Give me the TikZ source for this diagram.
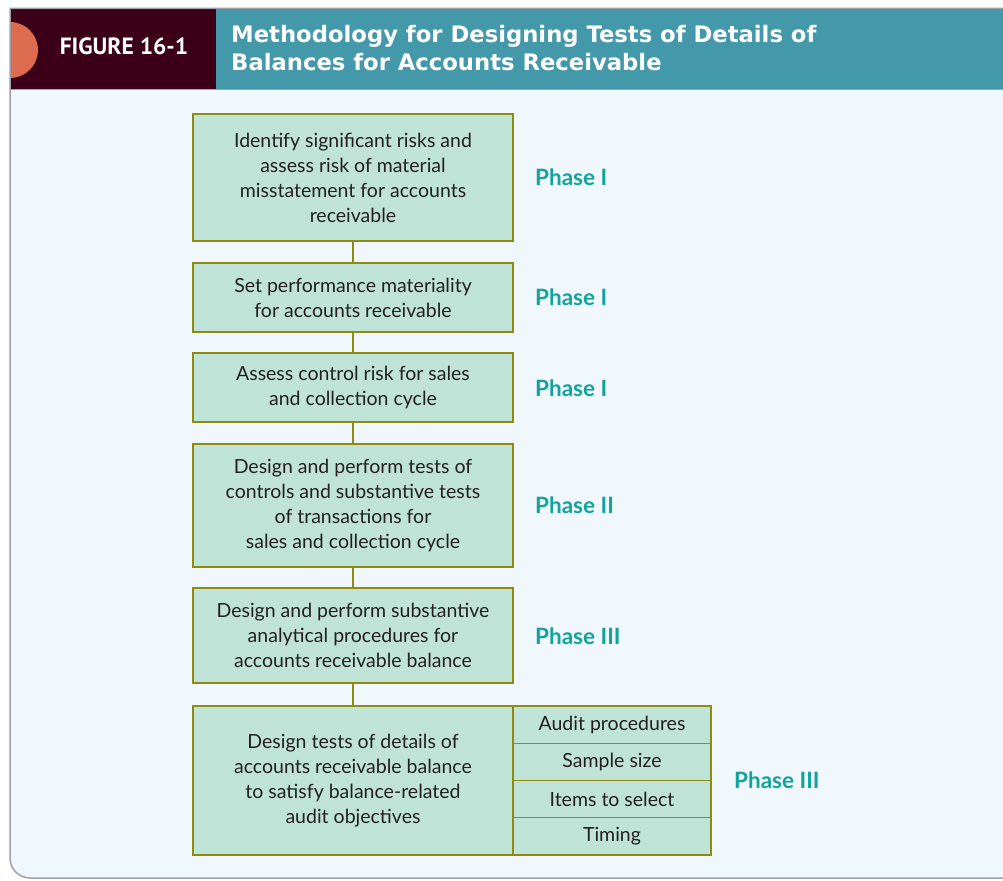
\documentclass[tikz,border=0pt]{standalone}
\usepackage{fontspec}
\setmainfont{Lato}
\newfontfamily\titlefont{DejaVu Sans}
\newfontfamily\figfont{PT Sans}
\definecolor{bodybg}{HTML}{F0F7FD}
\definecolor{maroon}{HTML}{3B0017}
\definecolor{tealhdr}{HTML}{4399AA}
\definecolor{orangec}{HTML}{DC6B4F}
\definecolor{boxfill}{HTML}{BFE3D6}
\definecolor{boxline}{HTML}{8F8A10}
\definecolor{phasec}{HTML}{11A39C}
\definecolor{framec}{HTML}{A0A0A8}
\definecolor{txt}{HTML}{231F20}
\tikzset{
  stepbox/.style={draw=boxline, fill=boxfill, line width=1.2pt, text=txt, align=center,
    font=\fontsize{19.5}{25}\selectfont, inner sep=0pt, outer sep=0pt},
  cellbox/.style={stepbox, minimum width=198pt, minimum height=37.25pt},
  phase/.style={text=phasec, font=\bfseries\fontsize{22.5}{24}\selectfont, anchor=west, inner sep=0pt},
  link/.style={draw=boxline, line width=1.2pt},
  ttl/.style={text=white, font=\titlefont\bfseries\fontsize{22.7}{28}\selectfont, anchor=base west, inner sep=0pt},
}
\begin{document}
\begin{tikzpicture}[x=1pt,y=-1pt]
\useasboundingbox (0,0) rectangle (1003,880);
% body background
\fill[bodybg] (10,89) -- (1003,89) -- (1003,878) -- (30,878) arc[start angle=90,end angle=180,radius=20] -- cycle;
% header
\fill[maroon] (10,9) rectangle (216,89);
\fill[tealhdr] (216,9) rectangle (1003,89);
\begin{scope}
\clip (10,9) rectangle (216,89);
\fill[orangec] (10,50) circle[radius=28];
\end{scope}
\draw[framec, line width=1.5pt] (1003,8.5) -- (10,8.5) -- (10,858) arc[start angle=180,end angle=90,radius=20] -- (1003,878);
\draw[framec, line width=1pt] (10,89.5) -- (1003,89.5);
\node[text=white, font=\figfont\bfseries\fontsize{23.5}{24}\selectfont, inner sep=0pt, anchor=base] (figlbl) at (124,55) {FIGURE 16-1};
\node[ttl] (title1) at (231,43) {Methodology for Designing Tests of Details of};
\node[ttl] (title2) at (231,71) {Balances for Accounts Receivable};
% boxes
\node[stepbox, minimum width=320pt, minimum height=127pt] (b1) at (353,177.5) {Identify significant risks and\\assess risk of material\\misstatement for accounts\\receivable};
\node[stepbox, minimum width=320pt, minimum height=69pt] (b2) at (353,297.5) {Set performance materiality\\for accounts receivable};
\node[stepbox, minimum width=320pt, minimum height=69pt] (b3) at (353,387.5) {Assess control risk for sales\\and collection cycle};
\node[stepbox, minimum width=320pt, minimum height=123pt] (b4) at (353,505.5) {Design and perform tests of\\controls and substantive tests\\of transactions for\\sales and collection cycle};
\node[stepbox, minimum width=320pt, minimum height=95pt] (b5) at (353,635.5) {Design and perform substantive\\analytical procedures for\\accounts receivable balance};
\node[stepbox, minimum width=320pt, minimum height=149pt] (b6) at (353,780.5) {Design tests of details of\\accounts receivable balance\\to satisfy balance-related\\audit objectives};
\node[cellbox, anchor=north west] (c1) at (b6.north east) {Audit procedures};
\node[cellbox, anchor=north] (c2) at (c1.south) {Sample size};
\node[cellbox, anchor=north] (c3) at (c2.south) {Items to select};
\node[cellbox, anchor=north] (c4) at (c3.south) {Timing};
% connectors
\draw[link] (b1.south) -- (b2.north);
\draw[link] (b2.south) -- (b3.north);
\draw[link] (b3.south) -- (b4.north);
\draw[link] (b4.south) -- (b5.north);
\draw[link] (b5.south) -- (b6.north);
% phase labels
\node[phase] (p1) at (535,177) {Phase I};
\node[phase] (p2) at (535,297) {Phase I};
\node[phase] (p3) at (535,388) {Phase I};
\node[phase] (p4) at (535,505) {Phase II};
\node[phase] (p5) at (535,636) {Phase III};
\node[phase] (p6) at (734,780) {Phase III};
\end{tikzpicture}
\end{document}
